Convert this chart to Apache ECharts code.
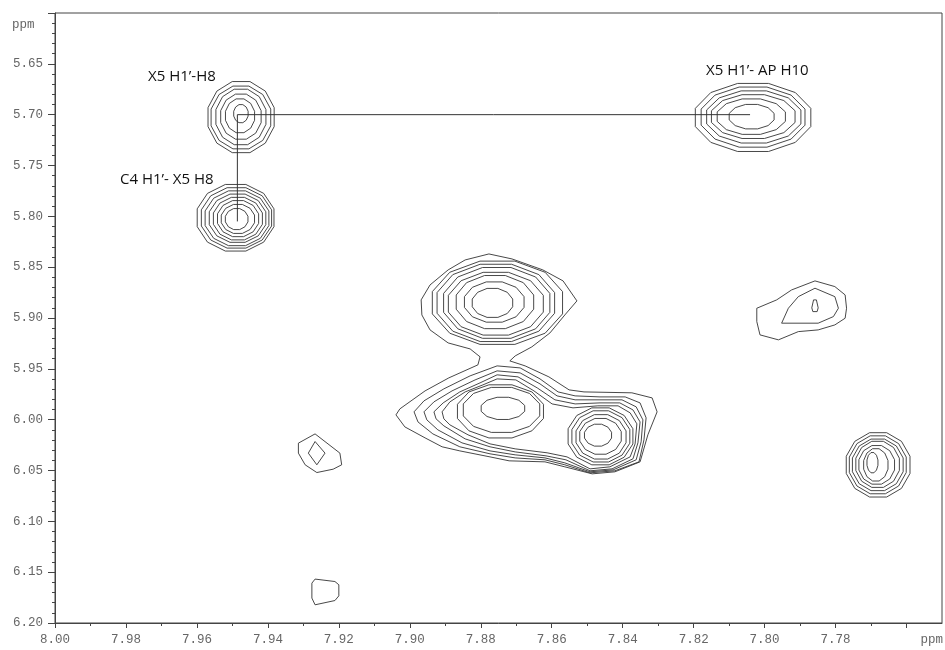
<!DOCTYPE html>
<html>
<head>
<meta charset="utf-8">
<script src="https://cdn.jsdelivr.net/npm/echarts@6.0.0/dist/echarts.min.js"></script>
<style>html,body{margin:0;padding:0;background:#fff}#chart{width:945px;height:650px}</style>
</head>
<body>
<div id="chart"></div>
<script>
// ---- axis ticks (ppm) ----
const xMajorTicks = [8.00,7.98,7.96,7.94,7.92,7.90,7.88,7.86,7.84,7.82,7.80,7.78,7.76];
const xLabelTicks = [8.00,7.98,7.96,7.94,7.92,7.90,7.88,7.86,7.84,7.82,7.80,7.78];
const xMinorTicks = [7.99,7.97,7.95,7.93,7.91,7.89,7.87,7.85,7.83,7.81,7.79,7.77];
const unitLabel = 'ppm';

// ---- peak annotations ----
const annotationTexts = ['X5 H1\u2019-H8', 'C4 H1\u2019- X5 H8', 'X5 H1\u2019- AP H10'];
// connecting line between cross peaks [F2 ppm, F1 ppm]
const linkLine = [[7.8041,5.700],[7.9486,5.700],[7.9486,5.805]];

// ---- contour rings read as extents: [left ppm, right ppm, top ppm, bottom ppm] ----
const ringsA = [ // X5 H1'-H8
  [7.9572,7.9379,5.6662,5.7386],[7.9563,7.9389,5.6708,5.7347],[7.9549,7.9403,5.6740,5.7305],
  [7.9535,7.9417,5.6790,5.7249],[7.9521,7.9436,5.6839,5.7183],[7.9497,7.9455,5.6898,5.7082]
];
const ringsB = [ // C4 H1'-X5 H8
  [7.9603,7.9379,5.7675,5.8353],[7.9591,7.9386,5.7708,5.8323],[7.9580,7.9394,5.7740,5.8298],
  [7.9568,7.9403,5.7773,5.8264],[7.9556,7.9413,5.7806,5.8239],[7.9544,7.9424,5.7839,5.8206],
  [7.9533,7.9436,5.7878,5.8173],[7.9521,7.9455,5.7920,5.8134]
];
const ringsC = [ // X5 H1'-AP H10
  [7.8201,7.7864,5.6681,5.7374],[7.8184,7.7881,5.6718,5.7330],[7.8168,7.7893,5.6757,5.7288],
  [7.8154,7.7910,5.6796,5.7242],[7.8137,7.7938,5.6839,5.7200],[7.8102,7.7971,5.6895,5.7144]
];
const ringsD = [
  [7.8943,7.8563,5.8426,5.9274],[7.8929,7.8586,5.8458,5.9245],[7.8910,7.8600,5.8491,5.9212],
  [7.8896,7.8619,5.8540,5.9179],[7.8873,7.8647,5.8573,5.9114],[7.8849,7.8675,5.8638,5.9048],
  [7.8826,7.8708,5.8704,5.8999]
];
const ringsE = [
  [7.8870,7.8619,5.9648,6.0189],[7.8853,7.8630,5.9675,6.0133],[7.8801,7.8674,5.9776,6.0002]
];
const ringsF = [
  [7.8557,7.8368,5.9874,6.0454],[7.8546,7.8377,5.9904,6.0425],[7.8534,7.8388,5.9943,6.0395],
  [7.8523,7.8402,5.9982,6.0346],[7.8509,7.8430,6.0041,6.0264]
];
const ringsG = [
  [7.7773,7.7587,6.0117,6.0772],[7.7764,7.7598,6.0149,6.0739],[7.7755,7.7607,6.0182,6.0707],
  [7.7745,7.7618,6.0205,6.0674],[7.7736,7.7632,6.0248,6.0641],[7.7722,7.7651,6.0280,6.0609],
  [7.7712,7.7680,6.0320,6.0526]
];

// ---- contours read as vertex lists [F2 ppm, F1 ppm] ----
const mergedOuter1 = [[7.8777,5.8370],[7.8712,5.8419],[7.8625,5.8527],[7.8568,5.8635],[7.8529,5.8832],[7.8563,5.8970],[7.8605,5.9147],[7.8656,5.9284],[7.8703,5.9373],[7.8718,5.9422],[7.8675,5.9471],[7.8608,5.9579],[7.8551,5.9707],[7.8509,5.9727],[7.8374,5.9736],[7.8317,5.9786],[7.8303,5.9923],[7.8329,6.0149],[7.8351,6.0415],[7.8422,6.0513],[7.8486,6.0533],[7.8563,6.0464],[7.8619,6.0415],[7.8720,6.0405],[7.8774,6.0366],[7.8859,6.0307],[7.8909,6.0267],[7.8957,6.0179],[7.9014,6.0071],[7.9039,5.9953],[7.9028,5.9894],[7.8957,5.9717],[7.8890,5.9589],[7.8808,5.9461],[7.8802,5.9382],[7.8830,5.9304],[7.8892,5.9245],[7.8943,5.9117],[7.8966,5.8970],[7.8968,5.8822],[7.8943,5.8675],[7.8892,5.8527],[7.8844,5.8429]];
const mergedOuter2 = [[7.8988,5.9923],[7.8960,5.9815],[7.8904,5.9697],[7.8830,5.9569],[7.8754,5.9471],[7.8689,5.9491],[7.8633,5.9599],[7.8582,5.9727],[7.8534,5.9766],[7.8464,5.9776],[7.8393,5.9776],[7.8351,5.9835],[7.8334,5.9982],[7.8340,6.0199],[7.8354,6.0415],[7.8422,6.0503],[7.8492,6.0523],[7.8563,6.0444],[7.8619,6.0395],[7.8703,6.0376],[7.8774,6.0336],[7.8859,6.0267],[7.8935,6.0140],[7.8977,6.0022]];
const mergedOuter3 = [[7.8960,5.9923],[7.8932,5.9825],[7.8881,5.9717],[7.8816,5.9609],[7.8754,5.9520],[7.8689,5.9540],[7.8633,5.9648],[7.8585,5.9766],[7.8534,5.9805],[7.8464,5.9805],[7.8402,5.9805],[7.8362,5.9874],[7.8343,6.0002],[7.8348,6.0218],[7.8362,6.0395],[7.8427,6.0494],[7.8492,6.0513],[7.8563,6.0425],[7.8619,6.0376],[7.8703,6.0346],[7.8774,6.0307],[7.8853,6.0228],[7.8921,6.0100],[7.8952,6.0002]];
const mergedOuter4 = [[7.8932,5.9923],[7.8906,5.9835],[7.8859,5.9727],[7.8802,5.9638],[7.8754,5.9559],[7.8695,5.9579],[7.8641,5.9687],[7.8591,5.9805],[7.8534,5.9845],[7.8464,5.9835],[7.8408,5.9835],[7.8371,5.9904],[7.8351,6.0022],[7.8357,6.0228],[7.8371,6.0385],[7.8430,6.0484],[7.8492,6.0503],[7.8560,6.0395],[7.8616,6.0356],[7.8703,6.0317],[7.8774,6.0267],[7.8844,6.0189],[7.8904,6.0061],[7.8926,5.9992]];
const mergedOuter5 = [[7.8909,5.9923],[7.8887,5.9825],[7.8844,5.9727],[7.8794,5.9658],[7.8754,5.9599],[7.8701,5.9609],[7.8650,5.9717],[7.8599,5.9845],[7.8540,5.9884],[7.8470,5.9864],[7.8413,5.9864],[7.8379,5.9933],[7.8360,6.0041],[7.8365,6.0238],[7.8379,6.0366],[7.8436,6.0464],[7.8492,6.0484],[7.8557,6.0366],[7.8613,6.0326],[7.8703,6.0287],[7.8774,6.0238],[7.8836,6.0149],[7.8887,6.0051],[7.8904,5.9992]];
const peakHOuter = [[7.8022,5.8904],[7.7966,5.8822],[7.7924,5.8724],[7.7858,5.8635],[7.7802,5.8691],[7.7773,5.8773],[7.7769,5.8904],[7.7773,5.9002],[7.7802,5.9068],[7.7849,5.9117],[7.7905,5.9134],[7.7961,5.9215],[7.8013,5.9166],[7.8022,5.9035]];
const peakHInner = [[7.7952,5.9051],[7.7933,5.8904],[7.7905,5.8790],[7.7858,5.8707],[7.7802,5.8790],[7.7792,5.8904],[7.7806,5.8986],[7.7849,5.9051]];
const peakHCore = [[7.7862,5.8822],[7.7854,5.8822],[7.7849,5.8900],[7.7852,5.8937],[7.7864,5.8937],[7.7867,5.8900]];
const peakIOuter = [[7.9314,6.0231],[7.9267,6.0140],[7.9197,6.0329],[7.9192,6.0444],[7.9216,6.0487],[7.9262,6.0520],[7.9295,6.0444],[7.9314,6.0329]];
const peakIInner = [[7.9267,6.0215],[7.9239,6.0329],[7.9262,6.0444],[7.9286,6.0329]];
const peakJ = [[7.9267,6.1568],[7.9211,6.1592],[7.9200,6.1624],[7.9200,6.1733],[7.9211,6.1779],[7.9267,6.1821],[7.9276,6.1755],[7.9276,6.1608]];

// ---- build outlines ----
function ringOutline(e) {
  const cx = (e[0] + e[1]) / 2, cy = (e[2] + e[3]) / 2;
  const rx = Math.abs(e[0] - e[1]) / 2, ry = Math.abs(e[3] - e[2]) / 2;
  const pts = [];
  const n = 12;
  for (let k = 0; k <= n; k++) {
    const a = (k % n) / n * Math.PI * 2 + Math.PI / 12;
    pts.push([cx + rx * Math.cos(a), cy + ry * Math.sin(a)]);
  }
  return pts;
}
function closed(p) { return p.concat([p[0]]); }

const contourLines = [];
[ringsA, ringsB, ringsC, ringsD, ringsE, ringsF, ringsG].forEach(set => set.forEach(r => contourLines.push(ringOutline(r))));
[mergedOuter1, mergedOuter2, mergedOuter3, mergedOuter4, mergedOuter5,
 peakHOuter, peakHInner, peakHCore, peakIOuter, peakIInner, peakJ].forEach(p => contourLines.push(closed(p)));

const LINE_COLOR = '#333';
const series = contourLines.map((pts, i) => ({
  type: 'line', name: 'contour' + i, data: pts, showSymbol: false, symbol: 'none',
  silent: true, animation: false, smooth: false,
  lineStyle: { color: LINE_COLOR, width: 0.9 }, z: 3
}));
series.push({
  type: 'line', name: 'link', data: linkLine, showSymbol: false, symbol: 'none',
  silent: true, animation: false, lineStyle: { color: '#333', width: 1 }, z: 4
});

const monoFont = '"Liberation Mono", "DejaVu Sans Mono", monospace';
const labelFont = '15px "Open Sans", "Noto Sans", sans-serif';

const chart = echarts.init(document.getElementById('chart'), null, { renderer: 'canvas' });
chart.setOption({
  animation: false,
  backgroundColor: '#fff',
  grid: { left: 55, right: 3, top: 13, bottom: 27, show: true, borderColor: '#444', borderWidth: 1 },
  xAxis: [{
    type: 'value', min: 7.75, max: 8.00, inverse: true, position: 'bottom',
    axisLine: { show: true, lineStyle: { color: '#444', width: 1 } },
    axisTick: { show: true, length: 5, customValues: xMajorTicks, lineStyle: { color: '#444' } },
    axisLabel: { show: true, customValues: xLabelTicks, margin: 10, color: '#666',
      fontFamily: monoFont, fontSize: 12.5, formatter: v => v.toFixed(2) },
    splitLine: { show: false }
  }, {
    type: 'value', min: 7.75, max: 8.00, inverse: true, position: 'bottom', offset: 0,
    axisLine: { show: false },
    axisTick: { show: true, length: 3, customValues: xMinorTicks, lineStyle: { color: '#444' } },
    axisLabel: { show: false },
    splitLine: { show: false }
  }],
  yAxis: {
    type: 'value', min: 5.60, max: 6.20, interval: 0.05, inverse: true,
    axisLine: { show: true, lineStyle: { color: '#444', width: 1 } },
    axisTick: { show: true, length: 7, lineStyle: { color: '#444' } },
    minorTick: { show: true, splitNumber: 5, length: 3, lineStyle: { color: '#444' } },
    axisLabel: { margin: 12, color: '#666', fontFamily: monoFont, fontSize: 12.5,
      formatter: v => (v < 5.625 ? '' : v.toFixed(2)) },
    splitLine: { show: false }
  },
  graphic: [
    { type: 'text', x: 12, y: 25, style: { text: unitLabel, font: '12.5px ' + monoFont, fill: '#666', verticalAlign: 'middle', textVerticalAlign: 'middle' } },
    { type: 'text', x: 943, y: 640, style: { text: unitLabel, font: '12.5px ' + monoFont, fill: '#666', align: 'right', textAlign: 'right', verticalAlign: 'middle', textVerticalAlign: 'middle' } },
    { type: 'text', x: 148, y: 77, style: { text: annotationTexts[0], font: labelFont, fill: '#111', verticalAlign: 'middle', textVerticalAlign: 'middle' } },
    { type: 'text', x: 120, y: 180, style: { text: annotationTexts[1], font: labelFont, fill: '#111', verticalAlign: 'middle', textVerticalAlign: 'middle' } },
    { type: 'text', x: 706, y: 71, style: { text: annotationTexts[2], font: labelFont, fill: '#111', verticalAlign: 'middle', textVerticalAlign: 'middle' } }
  ],
  series: series
});
</script>
</body>
</html>
